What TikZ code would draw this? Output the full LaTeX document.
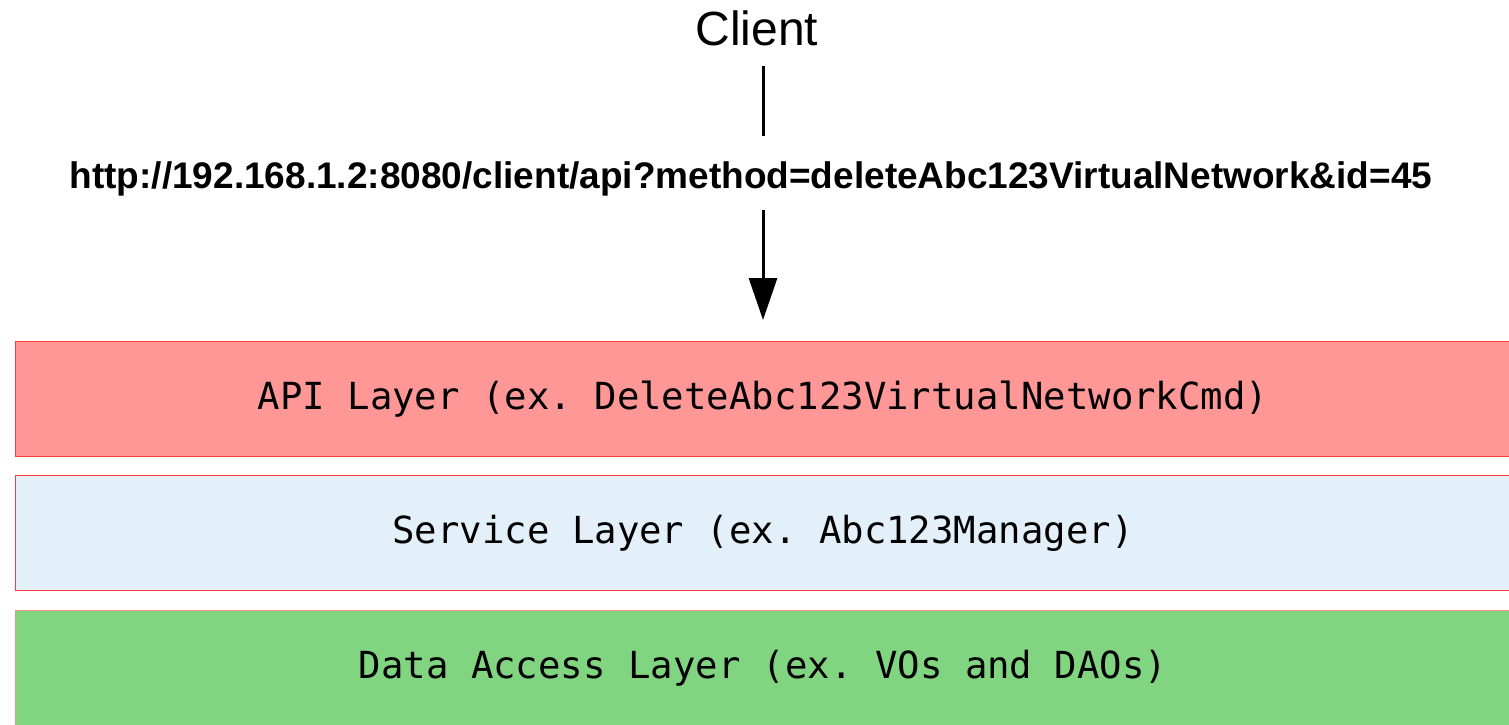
\documentclass[tikz,border=0pt]{standalone}
\usepackage{fontspec}
\setmainfont{Liberation Sans}
\setmonofont{DejaVu Sans Mono}
\usetikzlibrary{positioning,arrows.meta}

\definecolor{apired}{HTML}{FF9797}
\definecolor{serviceblue}{HTML}{E4F0F9}
\definecolor{datagreen}{HTML}{81D581}
\definecolor{layerline}{HTML}{FF3C3C}

\tikzset{
  layer/.style={draw=layerline, line width=1pt, minimum width=1495pt,
    minimum height=115pt, inner sep=0pt, anchor=north west,
    font=\ttfamily\fontsize{37.3}{42}\selectfont},
  flow/.style={line width=3pt}
}

\begin{document}
\begin{tikzpicture}[x=1pt,y=-1pt]
\useasboundingbox (0,0) rectangle (1509,724);

\node[inner sep=0pt] (client) at (757,28) {\fontsize{48}{50}\selectfont Client};
\node[inner sep=0pt] (url) at (751,179)
  {\fontsize{37}{40}\selectfont\bfseries http://192.168.1.2:8080/client/api?method=deleteAbc123VirtualNetwork\&id=45};

\node[layer, fill=apired] (api) at (15,341) {API Layer (ex. DeleteAbc123VirtualNetworkCmd)};
\node[layer, fill=serviceblue] (service) at (15,475) {Service Layer (ex. Abc123Manager)};
\node[layer, fill=datagreen, draw=layerline!60] (data) at (15,610) {Data Access Layer (ex. VOs and DAOs)};

% client -> url -> api
\draw[flow, shorten <=20pt, shorten >=26pt] (client.south -| api.north) -- (url.north -| api.north);
\draw[flow, -{Triangle[length=42pt,width=28pt]}, shorten <=14pt, shorten >=21pt]
  (url.south -| api.north) -- (api.north);

\end{tikzpicture}
\end{document}
